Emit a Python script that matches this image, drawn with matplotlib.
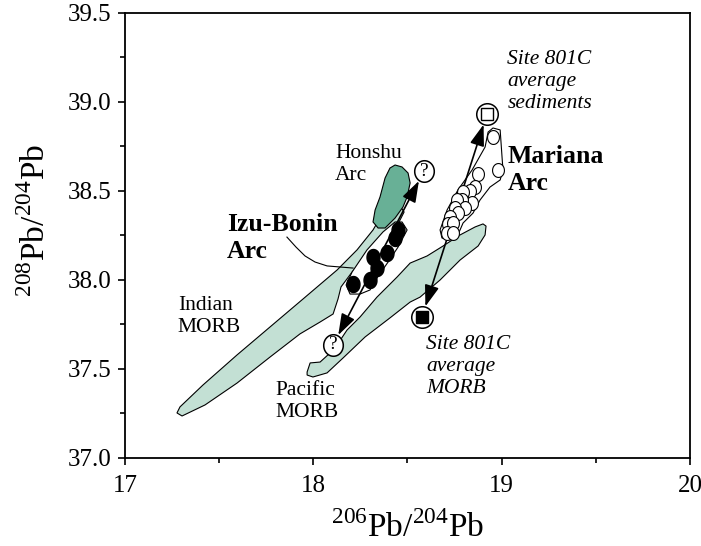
import numpy as np
import matplotlib.pyplot as plt
from matplotlib.ticker import MultipleLocator, FormatStrFormatter

plt.rcParams['font.family'] = 'Liberation Serif'
plt.rcParams['mathtext.fontset'] = 'custom'
plt.rcParams['mathtext.rm'] = 'Liberation Serif'

# field outlines, 206Pb/204Pb vs 208Pb/204Pb
indian_x = [17.292, 17.414, 17.595, 17.770, 17.945, 18.126, 18.232, 18.317, 18.354, 18.397, 18.450, 18.482,
            18.450, 18.381, 18.280, 18.206, 18.147, 18.131, 18.105, 18.036, 17.929, 17.770, 17.595, 17.425, 17.303, 17.276]
indian_y = [37.287, 37.410, 37.579, 37.736, 37.893, 38.056, 38.169, 38.281, 38.348, 38.421, 38.433, 38.382,
            38.315, 38.236, 38.135, 38.045, 37.961, 37.893, 37.809, 37.764, 37.697, 37.567, 37.421, 37.298, 37.236, 37.253]

pacific_x = [17.967, 17.983, 18.036, 18.089, 18.126, 18.179, 18.248, 18.338, 18.445, 18.514, 18.604, 18.689, 18.779,
             18.859, 18.901, 18.917, 18.912, 18.875, 18.779, 18.673, 18.567, 18.514, 18.407, 18.275, 18.158, 18.073,
             17.998, 17.967]
pacific_y = [37.483, 37.534, 37.539, 37.590, 37.635, 37.719, 37.792, 37.904, 38.017, 38.095, 38.135, 38.191, 38.253,
             38.298, 38.315, 38.303, 38.253, 38.191, 38.112, 38.000, 37.904, 37.876, 37.787, 37.680, 37.562, 37.478,
             37.455, 37.466]

honshu_x = [18.434, 18.471, 18.503, 18.514, 18.498, 18.476, 18.434, 18.381, 18.344, 18.317, 18.328, 18.354, 18.381, 18.407]
honshu_y = [38.646, 38.635, 38.601, 38.545, 38.466, 38.410, 38.348, 38.292, 38.292, 38.326, 38.393, 38.466, 38.573, 38.629]

izu_field_x = [18.471, 18.498, 18.450, 18.397, 18.338, 18.301, 18.248, 18.195, 18.174, 18.206, 18.285, 18.370, 18.434]
izu_field_y = [38.326, 38.281, 38.185, 38.101, 38.011, 37.944, 37.921, 37.921, 37.972, 38.045, 38.169, 38.270, 38.326]

mariana_field_x = [18.954, 18.992, 19.002, 19.007, 18.992, 18.938, 18.885, 18.848, 18.795, 18.763, 18.726, 18.683,
                   18.673, 18.710, 18.768, 18.843, 18.912, 18.928]
mariana_field_y = [38.854, 38.843, 38.691, 38.618, 38.562, 38.522, 38.449, 38.376, 38.320, 38.242, 38.225, 38.236,
                   38.281, 38.393, 38.506, 38.618, 38.747, 38.831]

# samples
izu_x = [18.450, 18.434, 18.391, 18.317, 18.338, 18.301, 18.211]
izu_y = [38.281, 38.236, 38.152, 38.129, 38.067, 38.000, 37.978]

mariana_x = [18.954, 18.981, 18.875, 18.859, 18.832, 18.843, 18.795, 18.790, 18.763, 18.806, 18.753, 18.768,
             18.726, 18.715, 18.742, 18.710, 18.742]
mariana_y = [38.803, 38.618, 38.596, 38.522, 38.500, 38.433, 38.494, 38.449, 38.449, 38.404, 38.404, 38.376,
             38.354, 38.315, 38.320, 38.264, 38.264]

# end members
izu_end_x = [18.105, 18.588]
izu_end_y = [37.635, 38.612]
sed_x, sed_y = 18.922, 38.933
morb_x, morb_y = 18.577, 37.792

leader_x = [17.860, 17.908, 17.956, 18.009, 18.073, 18.211]
leader_y = [38.241, 38.185, 38.135, 38.101, 38.079, 38.067]

light = '#c3e0d4'
dark = '#68b096'

t = np.linspace(0, 2 * np.pi, 60)
def oval(r):
    return np.column_stack([np.cos(t), r * np.sin(t)])

fig = plt.figure(figsize=(7.01, 5.46), dpi=100)
ax = fig.add_axes([0.1783, 0.1612, 0.806, 0.815])

ax.fill(indian_x, indian_y, facecolor=light, edgecolor='black', lw=0.8, zorder=1)
ax.fill(pacific_x, pacific_y, facecolor=light, edgecolor='black', lw=0.8, zorder=1)
ax.fill(izu_field_x, izu_field_y, facecolor='white', edgecolor='black', lw=0.8, zorder=2)
ax.fill(mariana_field_x, mariana_field_y, facecolor='white', edgecolor='black', lw=0.8, zorder=2)
ax.fill(honshu_x, honshu_y, facecolor=dark, edgecolor='black', lw=0.8, zorder=3)
ax.plot(leader_x, leader_y, color='black', lw=0.8, zorder=3)

arrow = dict(arrowstyle='<|-|>,head_length=0.65,head_width=0.22', color='black', lw=1.2,
             mutation_scale=20, shrinkA=8, shrinkB=8)
ax.annotate('', xy=(izu_end_x[1], izu_end_y[1]), xytext=(izu_end_x[0], izu_end_y[0]), arrowprops=arrow, zorder=4)
ax.annotate('', xy=(sed_x, sed_y), xytext=(morb_x, morb_y), arrowprops=arrow, zorder=4)

ax.plot(izu_x, izu_y, ls='none', marker=oval(1.23), markersize=11.5, mfc='black', mec='black', zorder=5)
ax.plot(mariana_x, mariana_y, ls='none', marker=oval(1.17), markersize=10, mfc='white', mec='black',
        mew=0.8, zorder=5)

ax.plot(izu_end_x, izu_end_y, ls='none', marker=oval(1.1), markersize=15.5, mfc='white', mec='black',
        mew=1.1, zorder=6)
for x, y in zip(izu_end_x, izu_end_y):
    ax.text(x, y, '?', ha='center', va='center', fontsize=14, zorder=7)

ax.plot([sed_x, morb_x], [sed_y, morb_y], ls='none', marker='o', markersize=15.5, mfc='white', mec='black',
        mew=1.1, zorder=6)
ax.plot(sed_x, sed_y, ls='none', marker='s', markersize=8.5, mfc='white', mec='black', mew=1.0, zorder=7)
ax.plot(morb_x, morb_y, ls='none', marker='s', markersize=8.5, mfc='black', mec='black', zorder=7)

# label positions are given at the baseline of the last line
ax.text(18.115, 38.562, 'Honshu\nArc', fontsize=15.5, va='baseline')
ax.text(17.54, 38.124, 'Izu-Bonin\nArc', fontsize=18.5, fontweight='bold', va='baseline')
ax.text(17.28, 37.708, 'Indian\nMORB', fontsize=15.5, va='baseline')
ax.text(17.80, 37.230, 'Pacific\nMORB', fontsize=15.5, va='baseline')
ax.text(19.03, 38.506, 'Mariana\nArc', fontsize=18.5, fontweight='bold', va='baseline')
ax.text(19.03, 38.966, 'Site 801C\naverage\nsediments', fontsize=15.5, style='italic', va='baseline')
ax.text(18.60, 37.365, 'Site 801C\naverage\nMORB', fontsize=15.5, style='italic', va='baseline')

ax.set_xlim(17, 20)
ax.set_ylim(37.0, 39.5)
ax.xaxis.set_major_locator(MultipleLocator(1))
ax.xaxis.set_minor_locator(MultipleLocator(0.5))
ax.yaxis.set_major_locator(MultipleLocator(0.5))
ax.yaxis.set_minor_locator(MultipleLocator(0.25))
ax.yaxis.set_major_formatter(FormatStrFormatter('%.1f'))
ax.tick_params(which='major', direction='out', length=5, width=1.2, labelsize=18)
ax.tick_params(which='minor', direction='out', length=3.5, width=1.2)
ax.tick_params(axis='x', pad=7)
ax.tick_params(axis='y', pad=5)
for s in ax.spines.values():
    s.set_linewidth(1.3)

ax.set_xlabel(r'$^{206}$Pb/$^{204}$Pb', fontsize=24)
ax.set_ylabel(r'$^{208}$Pb/$^{204}$Pb', fontsize=24)
ax.xaxis.set_label_coords(0.5, -0.12)
ax.yaxis.set_label_coords(-0.13, 0.533)

fig.savefig('out.png', dpi=100)
